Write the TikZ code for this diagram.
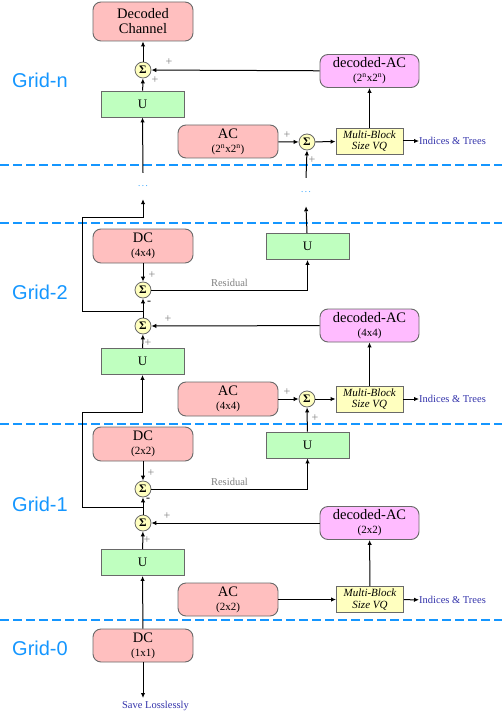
\documentclass[tikz,border=0pt]{standalone}
\usepackage{fontspec}
\setmainfont{Liberation Serif}
\newfontfamily\gridfont{Liberation Sans}
\usetikzlibrary{arrows.meta}

\definecolor{dcpink}{RGB}{255,191,191}
\definecolor{acmagenta}{RGB}{255,187,255}
\definecolor{upgreen}{RGB}{191,255,191}
\definecolor{vqyellow}{RGB}{255,255,191}
\definecolor{gridblue}{RGB}{20,150,255}
\definecolor{textnavy}{RGB}{50,50,170}
\definecolor{edgegray}{RGB}{105,105,105}

\tikzset{
  blockbox/.style={draw=edgegray, line width=0.9pt, rounded corners=8pt, align=center,
    minimum width=100pt, minimum height=34pt, inner sep=1pt, font=\fontsize{14.5}{15}\selectfont},
  dcbox/.style={blockbox, fill=dcpink},
  decbox/.style={blockbox, fill=acmagenta, minimum width=99pt, minimum height=33pt},
  upbox/.style={draw=edgegray, line width=0.9pt, fill=upgreen, minimum width=83pt,
    minimum height=26pt, font=\fontsize{13}{13}\selectfont},
  vqbox/.style={draw=edgegray, line width=0.9pt, fill=vqyellow, minimum width=67pt,
    minimum height=26pt, inner sep=1pt, align=center, font=\fontsize{11}{11.5}\selectfont\itshape},
  sumnode/.style={circle, draw=edgegray, line width=0.8pt, fill=vqyellow, minimum size=16pt,
    inner sep=0pt, font=\fontsize{11.5}{11.5}\selectfont\bfseries},
  sign/.style={text=gray, font=\fontsize{12}{12}\selectfont, inner sep=0pt},
  outtext/.style={text=textnavy, font=\fontsize{10.5}{11}\selectfont, inner sep=0pt},
  dotnode/.style={text=gridblue, font=\fontsize{9}{9}\selectfont, inner sep=0pt},
  gridlabel/.style={text=gridblue, anchor=west, inner sep=0pt, font=\gridfont\fontsize{20}{20}\selectfont},
  wire/.style={line width=1pt, ->}
}
\newcommand{\sub}[1]{\\[-1pt]{\fontsize{11}{11}\selectfont #1}}
\newcommand{\pw}{2\textsuperscript{n}x2\textsuperscript{n}}

\begin{document}
\begin{tikzpicture}[x=1pt, y=-1pt, >={Latex[length=5pt,width=4.5pt]}]
  \useasboundingbox (0,0) rectangle (502,714);

  % grid separators and labels
  \foreach \y in {165,223,424,620}
    \draw[gridblue, line width=2pt, dash pattern=on 9pt off 4pt] (0,\y) -- (502,\y);
  \node[gridlabel] (gn) at (12,80) {Grid-n};
  \node[gridlabel] (g2) at (12,292) {Grid-2};
  \node[gridlabel] (g1) at (12,504) {Grid-1};
  \node[gridlabel] (g0) at (12,648) {Grid-0};

  % --- Grid-n ---
  \node[dcbox, minimum height=39pt] (out) at (143,21.5) {Decoded\\Channel};
  \node[sumnode] (sumN) at (143,70) {Σ};
  \node[upbox] (upN) at (142.5,104) {U};
  \node[decbox] (decN) at (369.5,71) {decoded-AC\sub{(\pw)}};
  \node[dcbox, minimum height=33pt] (acN) at (228,141.5) {AC\sub{(\pw)}};
  \node[sumnode] (sumacN) at (307,142) {Σ};
  \node[vqbox] (vqN) at (369.5,141) {Multi-Block\\Size VQ};
  \node[outtext, anchor=west] (idxN) at (419,141) {Indices \& Trees};
  \node[dotnode, minimum height=26pt] (dotsL) at (143,186) {.\,.\,.};
  \node[dotnode, minimum height=28pt] (dotsR) at (306,192) {.\,.\,.};
  \node[sign] at (169,62) {+};
  \node[sign] at (155,80) {+};
  \node[sign] at (287,135) {+};
  \node[sign] at (312,160) {+};
  \draw[wire] (upN) -- (sumN);
  \draw[wire] (sumN) -- (out);
  \draw[wire] (decN) -- (sumN);
  \draw[wire] (acN) -- (sumacN);
  \draw[wire] (sumacN) -- (vqN);
  \draw[wire] (vqN) -- (idxN);
  \draw[wire] (vqN) -- (decN);
  \draw[wire] (dotsL.north) -- (upN.south);
  \draw[wire] (dotsR.north) -- (sumacN.south);

  % --- Grid-2 ---
  \node[dcbox] (dc2) at (143,246) {DC\sub{(4x4)}};
  \node[upbox] (upR2) at (307.5,246.5) {U};
  \node[sumnode] (res2) at (143,290) {Σ};
  \node[sumnode] (sum2) at (143,326) {Σ};
  \node[decbox] (dec2) at (369.5,325.5) {decoded-AC\sub{(4x4)}};
  \node[upbox] (up2) at (142.5,361.5) {U};
  \node[dcbox] (ac2) at (228,399) {AC\sub{(4x4)}};
  \node[sumnode] (sumac2) at (307,399) {Σ};
  \node[vqbox] (vq2) at (369.5,399) {Multi-Block\\Size VQ};
  \node[outtext, anchor=west] (idx2) at (419,399) {Indices \& Trees};
  \node[sign] at (152,275) {+};
  \node[sign, text=black] at (149,303) {-};
  \node[sign] at (168,319) {+};
  \node[sign] at (148,343) {+};
  \node[sign] at (287,392) {+};
  \node[sign] at (315,418) {+};
  \coordinate (j2) at (143,311);
  \coordinate (loop2) at (82,217);
  \draw[wire] (dc2) -- (res2);
  \draw[wire] (res2.east) -| (upR2.south)
    node[pos=0.25, above, text=gray, font=\fontsize{10.5}{11}\selectfont] {Residual};
  \draw[wire] (upR2) -- (dotsR.south);
  \draw[wire] (sum2) -- (res2);
  \draw[wire] (j2) -- (j2 -| loop2) -- (loop2) -- (loop2 -| dotsL) -- (dotsL.south);
  \draw[wire] (dec2) -- (sum2);
  \draw[wire] (up2) -- (sum2);
  \draw[wire] (ac2) -- (sumac2);
  \draw[wire] (sumac2) -- (vq2);
  \draw[wire] (vq2) -- (idx2);
  \draw[wire] (vq2) -- (dec2);

  % --- Grid-1 ---
  \node[dcbox] (dc1) at (143,444) {DC\sub{(2x2)}};
  \node[upbox] (upR1) at (307.5,445) {U};
  \node[sumnode] (res1) at (143,489) {Σ};
  \node[sumnode] (sum1) at (143,523) {Σ};
  \node[decbox] (dec1) at (369.5,523) {decoded-AC\sub{(2x2)}};
  \node[upbox] (up1) at (142.5,562.5) {U};
  \node[dcbox, minimum height=33pt] (ac1) at (228,599.5) {AC\sub{(2x2)}};
  \node[vqbox] (vq1) at (370,599.5) {Multi-Block\\Size VQ};
  \node[outtext, anchor=west] (idx1) at (419,600) {Indices \& Trees};
  \node[sign] at (151,473) {+};
  \node[sign, text=black] at (148,500) {-};
  \node[sign] at (167,516) {+};
  \node[sign] at (147,540) {+};
  \coordinate (j1) at (143,507);
  \coordinate (loop1) at (82,412);
  \draw[wire] (dc1) -- (res1);
  \draw[wire] (res1.east) -| (upR1.south)
    node[pos=0.25, above, text=gray, font=\fontsize{10.5}{11}\selectfont] {Residual};
  \draw[wire] (upR1) -- (sumac2);
  \draw[wire] (sum1) -- (res1);
  \draw[wire] (j1) -- (j1 -| loop1) -- (loop1) -- (loop1 -| up2) -- (up2.south);
  \draw[wire] (dec1) -- (sum1);
  \draw[wire] (up1) -- (sum1);
  \draw[wire] (ac1) -- (vq1);
  \draw[wire] (vq1) -- (idx1);
  \draw[wire] (vq1) -- (dec1);

  % --- Grid-0 ---
  \node[dcbox, minimum height=33pt] (dc0) at (143,645.5) {DC\sub{(1x1)}};
  \node[outtext] (save) at (155.5,706) {Save Losslessly};
  \coordinate (saveTip) at (143,698);
  \draw[wire] (dc0) -- (up1);
  \draw[wire] (dc0) -- (saveTip);

\end{tikzpicture}
\end{document}
